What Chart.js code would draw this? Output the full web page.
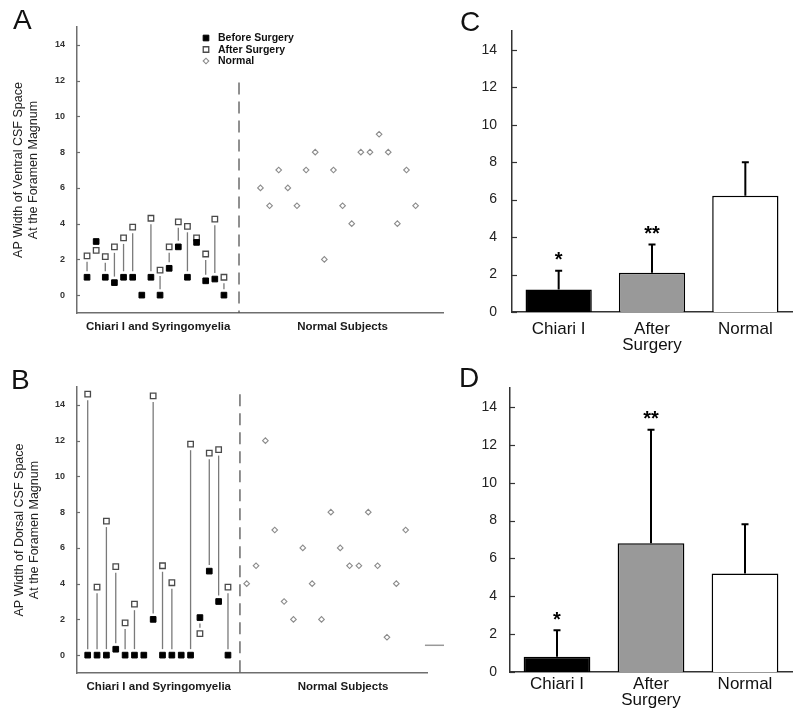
<!DOCTYPE html>
<html>
<head>
<meta charset="utf-8">
<script src="https://cdn.jsdelivr.net/npm/chart.js@4.4.0/dist/chart.umd.min.js"></script>
<style>
  body { margin: 0; background: #fff; }
  #wrap { position: relative; width: 800px; height: 718px; overflow: hidden; font-family: "Liberation Sans", Arial, Helvetica, sans-serif; }
  canvas { position: absolute; }
  .panel { position: absolute; font-size: 28px; line-height: 28px; color: #111; }
</style>
</head>
<body>
<div id="wrap">
  <canvas id="chartA" style="left:0;top:0" width="460" height="345"></canvas>
  <canvas id="chartB" style="left:0;top:360px" width="460" height="358"></canvas>
  <canvas id="chartC" style="left:480px;top:0" width="320" height="360"></canvas>
  <canvas id="chartD" style="left:480px;top:360px" width="320" height="358"></canvas>
  <div class="panel" style="left:13px;top:6px">A</div>
  <div class="panel" style="left:11px;top:366px">B</div>
  <div class="panel" style="left:460px;top:8px">C</div>
  <div class="panel" style="left:459px;top:364px">D</div>
</div>
<script>
const FONT = '"Liberation Sans", Arial, Helvetica, sans-serif';
Chart.defaults.font.family = FONT;
Chart.defaults.color = '#222';

// shared labels
const yTicks = [0, 2, 4, 6, 8, 10, 12, 14];
const groupLabels = ['Chiari I and Syringomyelia', 'Normal Subjects'];
const legendLabels = ['Before Surgery', 'After Surgery', 'Normal'];

// patients, same order in A and B (null = no post-op value)
const patientX = [1, 2, 3, 4, 5, 6, 7, 8, 9, 10, 11, 12, 13, 14, 15, 16];

// A: ventral CSF space
const ventralBefore = [1.0, 3.0, 1.0, 0.7, 1.0, 1.0, 0, 1.0, 0, 1.5, 2.7, 1.0, 2.95, 0.8, 0.9, 0];
const ventralAfter = [2.2, 2.5, 2.15, 2.7, 3.2, 3.8, null, 4.3, 1.4, 2.7, 4.1, 3.85, 3.2, 2.3, 4.25, 1.0];
const ventralNormalX = [20, 21, 22, 23, 24, 25, 26, 27, 28, 29, 30, 31, 32, 33, 34, 35, 36, 37];
const ventralNormal = [6, 5, 7, 6, 5, 7, 8, 2, 7, 5, 4, 8, 8, 9, 8, 4, 7, 5];

// B: dorsal CSF space
const dorsalBefore = [0, 0, 0, 0.33, 0, 0, 0, 2.0, 0, 0, 0, 0, 2.1, 4.7, 3.0, 0];
const dorsalAfter = [14.6, 3.8, 7.5, 4.95, 1.8, 2.85, null, 14.5, 5.0, 4.05, null, 11.8, 1.2, 11.3, 11.5, 3.8];
const dorsalNormalX = [18, 19, 20, 21, 22, 23, 24, 25, 26, 27, 28, 29, 30, 31, 32, 33, 34, 35];
const dorsalNormal = [4, 5, 12, 7, 3, 2, 6, 4, 2, 8, 6, 5, 5, 8, 5, 1, 4, 7];

// C and D: group means with upward SD bars
const barLabels = ['Chiari I', ['After', 'Surgery'], 'Normal'];
const barColors = ['#000000', '#999999', '#ffffff'];
const ventralMean = [1.2, 2.1, 6.2];
const ventralSD = [1.0, 1.5, 1.8];
const dorsalMean = [0.8, 6.8, 5.2];
const dorsalSD = [1.4, 6.0, 2.6];
const barStars = ['*', '**', ''];

function pts(xs, ys) {
    return xs.map((x, i) => ({ x: x, y: ys[i] })).filter(p => p.y !== null);
}

function marker(ctx, style, r, cx, cy) {
    ctx.beginPath();
    if (style === 'rect') {
        const s = r * Math.SQRT1_2;
        ctx.rect(cx - s, cy - s, 2 * s, 2 * s);
    } else {
        ctx.moveTo(cx - r, cy);
        ctx.lineTo(cx, cy - r);
        ctx.lineTo(cx + r, cy);
        ctx.lineTo(cx, cy + r);
        ctx.closePath();
    }
    ctx.fill();
    ctx.stroke();
}

// small tick marks pointing into the plot
function innerTicks(len, color) {
    return {
        id: 'innerTicks',
        afterDraw(chart) {
            const { ctx, chartArea, scales: { y } } = chart;
            ctx.save();
            ctx.strokeStyle = color;
            ctx.lineWidth = 1.2;
            y.ticks.forEach(t => {
                const py = Math.round(y.getPixelForValue(t.value)) + 0.5;
                ctx.beginPath();
                ctx.moveTo(chartArea.left, py);
                ctx.lineTo(chartArea.left + len, py);
                ctx.stroke();
            });
            ctx.restore();
        }
    };
}

// vertical line joining before/after values of each patient
function connectors(xs, before, after) {
    return {
        id: 'connectors',
        beforeDatasetsDraw(chart) {
            const { ctx, scales: { x, y } } = chart;
            ctx.save();
            ctx.strokeStyle = '#7a7a7a';
            ctx.lineWidth = 1.3;
            xs.forEach((v, i) => {
                if (after[i] === null) return;
                const px = x.getPixelForValue(v);
                const yb = y.getPixelForValue(before[i]);
                const ya = y.getPixelForValue(after[i]);
                const top = Math.min(yb, ya) + 6;
                const bottom = Math.max(yb, ya) - 6;
                if (bottom - top < 1) return;
                ctx.beginPath();
                ctx.moveTo(px, top);
                ctx.lineTo(px, bottom);
                ctx.stroke();
            });
            ctx.restore();
        }
    };
}

const legendA = {
    id: 'legendA',
    afterDraw(chart) {
        const ctx = chart.ctx;
        ctx.save();
        legendLabels.forEach((label, i) => {
            const ds = chart.data.datasets[i];
            const y = 38 + i * 11.5;
            ctx.fillStyle = ds.backgroundColor;
            ctx.strokeStyle = ds.borderColor;
            ctx.lineWidth = ds.borderWidth;
            marker(ctx, ds.pointStyle, ds.pointRadius, 206, y);
            ctx.fillStyle = '#111';
            ctx.font = 'bold 10.5px ' + FONT;
            ctx.textBaseline = 'middle';
            ctx.textAlign = 'left';
            ctx.fillText(label, 218, y + 0.5);
        });
        ctx.restore();
    }
};

function errorBars(sd) {
    return {
        id: 'errorBars',
        afterDatasetsDraw(chart) {
            const { ctx, scales: { y } } = chart;
            const meta = chart.getDatasetMeta(0);
            const values = chart.data.datasets[0].data;
            ctx.save();
            meta.data.forEach((bar, i) => {
                const tip = y.getPixelForValue(values[i] + sd[i]);
                ctx.strokeStyle = '#000';
                ctx.lineWidth = 2;
                ctx.beginPath();
                ctx.moveTo(bar.x, bar.y);
                ctx.lineTo(bar.x, tip);
                ctx.moveTo(bar.x - 3.5, tip);
                ctx.lineTo(bar.x + 3.5, tip);
                ctx.stroke();
                if (barStars[i]) {
                    ctx.fillStyle = '#000';
                    ctx.font = 'bold 20px ' + FONT;
                    ctx.textAlign = 'center';
                    ctx.textBaseline = 'alphabetic';
                    ctx.fillText(barStars[i], bar.x, tip - 4.5);
                }
            });
            ctx.restore();
        }
    };
}

function makeScatter(id, o) {
    return new Chart(document.getElementById(id), {
        type: 'scatter',
        data: {
            datasets: [
                { label: legendLabels[0], data: pts(patientX, o.before), pointStyle: 'rect', pointRadius: 4,
                  backgroundColor: '#000', borderColor: '#000', borderWidth: 1 },
                { label: legendLabels[1], data: pts(patientX, o.after), pointStyle: 'rect', pointRadius: 3.9,
                  backgroundColor: '#fff', borderColor: '#4a4a4a', borderWidth: 1.3 },
                { label: legendLabels[2], data: pts(o.normalX, o.normal), pointStyle: 'rectRot', pointRadius: 2.8,
                  backgroundColor: '#fff', borderColor: '#8c8c8c', borderWidth: 1.1 },
                { label: 'divider', data: [{ x: o.divX, y: o.divTop }, { x: o.divX, y: -1 }], showLine: true,
                  borderColor: '#555', borderWidth: 1.3, borderDash: [12, 7], pointRadius: 0 }
            ].concat(o.extra || [])
        },
        options: {
            responsive: false,
            animation: false,
            events: [],
            devicePixelRatio: 1,
            layout: { padding: { left: 0, top: 27, right: o.padRight, bottom: 0 }, autoPadding: false },
            plugins: { legend: { display: false }, tooltip: { enabled: false } },
            scales: {
                x: {
                    type: 'linear', min: o.xMin, max: o.xMax,
                    grid: { display: false, drawTicks: false },
                    border: { color: '#6e6e6e', width: 1.5 },
                    afterBuildTicks: s => { s.ticks = o.groupX.map(v => ({ value: v })); },
                    afterFit: s => { s.height = o.xHeight; },
                    ticks: { autoSkip: false, maxRotation: 0, padding: 7, color: '#1a1a1a',
                             font: { size: 11.5, weight: 'bold' }, callback: (v, i) => groupLabels[i] }
                },
                y: {
                    min: -1, max: 15,
                    grid: { display: false, drawTicks: false },
                    border: { color: '#6e6e6e', width: 1.5 },
                    afterBuildTicks: s => { s.ticks = yTicks.map(v => ({ value: v })); },
                    afterFit: s => { s.width = 77; },
                    ticks: { padding: 12, color: '#333', font: { size: 9, weight: 'bold' } },
                    title: { display: true, text: o.title, color: '#222', font: { size: 12.5 },
                             padding: { top: o.titlePad, bottom: 0 } }
                }
            }
        },
        plugins: [connectors(patientX, o.before, o.after), innerTicks(3, '#6e6e6e')].concat(o.plugins || [])
    });
}

function makeBars(id, mean, sd, o) {
    return new Chart(document.getElementById(id), {
        type: 'bar',
        data: {
            labels: barLabels,
            datasets: [{ data: mean, backgroundColor: barColors, borderColor: '#000', borderWidth: 1.5,
                         barPercentage: 0.71, categoryPercentage: 1 }]
        },
        options: {
            responsive: false,
            animation: false,
            events: [],
            devicePixelRatio: 1,
            layout: { padding: { left: 0, top: o.top, right: 8, bottom: 0 }, autoPadding: false },
            plugins: { legend: { display: false }, tooltip: { enabled: false } },
            scales: {
                x: {
                    grid: { display: false, drawTicks: false },
                    border: { color: '#333', width: 1.5 },
                    afterFit: s => { s.height = o.xHeight; },
                    ticks: { padding: o.labelPad, color: '#111', font: { size: 17, lineHeight: 0.9 } }
                },
                y: {
                    min: 0, max: 15,
                    grid: { display: false, drawTicks: false },
                    border: { color: '#333', width: 1.5 },
                    afterBuildTicks: s => { s.ticks = yTicks.map(v => ({ value: v })); },
                    afterFit: s => { s.width = o.yWidth; },
                    ticks: { padding: o.tickPad, color: '#222', font: { size: 14 } }
                }
            }
        },
        plugins: [innerTicks(5, '#333'), errorBars(sd)]
    });
}

makeScatter('chartA', {
    before: ventralBefore, after: ventralAfter, normalX: ventralNormalX, normal: ventralNormal,
    xMin: -0.1, xMax: 40, padRight: 17, xHeight: 32, groupX: [8.8, 29.0],
    divX: 17.65, divTop: 11.9, titlePad: 10.8,
    title: ['AP Width of Ventral CSF Space', 'At the Foramen Magnum'],
    plugins: [legendA]
});

makeScatter('chartB', {
    before: dorsalBefore, after: dorsalAfter, normalX: dorsalNormalX, normal: dorsalNormal,
    xMin: -0.144, xMax: 37.28, padRight: 33, xHeight: 45, groupX: [8.6, 28.3],
    divX: 17.28, divTop: 14.6, titlePad: 12.5,
    title: ['AP Width of Dorsal CSF Space', 'At the Foramen Magnum'],
    extra: [{ label: 'mark', data: [{ x: 37.06, y: 0.55 }, { x: 39.1, y: 0.55 }], showLine: true,
              borderColor: '#999', borderWidth: 1.5, pointRadius: 0, clip: false }]
});

makeBars('chartC', ventralMean, ventralSD, { top: 31, xHeight: 48, labelPad: 10, yWidth: 32, tickPad: 15 });
makeBars('chartD', dorsalMean, dorsalSD, { top: 28, xHeight: 46, labelPad: 5, yWidth: 30, tickPad: 13 });
</script>
</body>
</html>
